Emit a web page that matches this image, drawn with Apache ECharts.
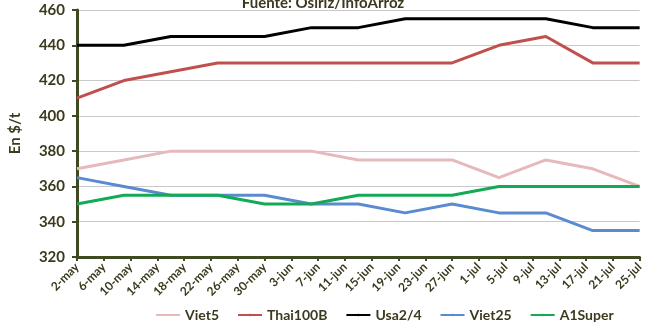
<!DOCTYPE html>
<html>
<head>
<meta charset="utf-8">
<script src="https://cdn.jsdelivr.net/npm/echarts@6/dist/echarts.min.js"></script>
<style>
  html, body { margin: 0; padding: 0; background: #fff; }
  #chart { width: 646px; height: 329px; }
</style>
</head>
<body>
<div id="chart"></div>
<script>
// weekly price points
const weeks = ['2-may', '9-may', '16-may', '23-may', '30-may', '6-jun', '13-jun', '20-jun', '27-jun', '4-jul', '11-jul', '18-jul', '25-jul']
const viet5 = [370, 375, 380, 380, 380, 380, 375, 375, 375, 365, 375, 370, 360]
const thai100b = [410, 420, 425, 430, 430, 430, 430, 430, 430, 440, 445, 430, 430]
const usa24 = [440, 440, 445, 445, 445, 450, 450, 455, 455, 455, 455, 450, 450]
const viet25 = [365, 360, 355, 355, 355, 350, 350, 345, 350, 345, 345, 335, 335]
const a1super = [350, 355, 355, 355, 350, 350, 355, 355, 355, 360, 360, 360, 360]

// axis labels every 4 days
const tickLabels = ['2-may', '6-may', '10-may', '14-may', '18-may', '22-may', '26-may', '30-may', '3-jun', '7-jun', '11-jun', '15-jun', '19-jun', '23-jun', '27-jun', '1-jul', '5-jul', '9-jul', '13-jul', '17-jul', '21-jul', '25-jul']

const monthStart = { may: 0, jun: 31, jul: 61 }
function dayOffset(label) {
  const [d, m] = label.split('-')
  return monthStart[m] + Number(d) - 2
}

const axisColor = '#3d4a22'
const textColor = '#3b3a1e'
const font = 'Lato, "Open Sans", sans-serif'

function makeSeries(name, values, color) {
  return {
    name,
    type: 'line',
    data: values.map((v, i) => [dayOffset(weeks[i]), v]),
    symbol: 'none',
    lineStyle: { width: 3, color },
    itemStyle: { color },
  }
}

const chart = echarts.init(document.getElementById('chart'))
chart.setOption({
  animation: false,
  title: {
    text: 'Fuente: Osiriz/InfoArroz',
    left: 'center',
    top: -9,
    textStyle: { color: textColor, fontSize: 15, fontWeight: 'bold', fontFamily: font },
  },
  legend: {
    bottom: 2,
    left: 150,
    itemWidth: 24,
    itemHeight: 3,
    itemGap: 18,
    textStyle: { color: textColor, fontSize: 14, fontWeight: 'bold', fontFamily: font },
    data: ['Viet5', 'Thai100B', 'Usa2/4', 'Viet25', 'A1Super'],
  },
  grid: { left: 74, right: 6, top: 10, bottom: 72 },
  xAxis: {
    type: 'value',
    min: 0,
    max: 84,
    interval: 4,
    axisLine: { lineStyle: { color: axisColor, width: 3 } },
    axisTick: { show: true, length: 4, lineStyle: { color: axisColor, width: 2 } },
    splitLine: { show: false },
    axisLabel: {
      rotate: 45,
      margin: 8,
      color: textColor,
      fontSize: 12,
      fontWeight: 'bold',
      fontFamily: font,
      formatter: v => tickLabels[v / 4] || '',
    },
  },
  yAxis: {
    type: 'value',
    min: 320,
    max: 460,
    interval: 20,
    name: 'En $/t',
    nameLocation: 'middle',
    nameGap: 54,
    nameTextStyle: { color: textColor, fontSize: 15, fontWeight: 'bold', fontFamily: font },
    axisLine: { show: true, lineStyle: { color: axisColor, width: 3 } },
    axisTick: { show: true, length: 5, lineStyle: { color: axisColor, width: 2 } },
    splitLine: { lineStyle: { color: '#c9c9c9', width: 1 } },
    axisLabel: { color: textColor, fontSize: 15, fontWeight: 'bold', fontFamily: font, margin: 12 },
  },
  series: [
    makeSeries('Viet5', viet5, '#e6b9bd'),
    makeSeries('Thai100B', thai100b, '#c0504d'),
    makeSeries('Usa2/4', usa24, '#000000'),
    makeSeries('Viet25', viet25, '#5a8ad0'),
    makeSeries('A1Super', a1super, '#14aa55'),
  ],
})
</script>
</body>
</html>
